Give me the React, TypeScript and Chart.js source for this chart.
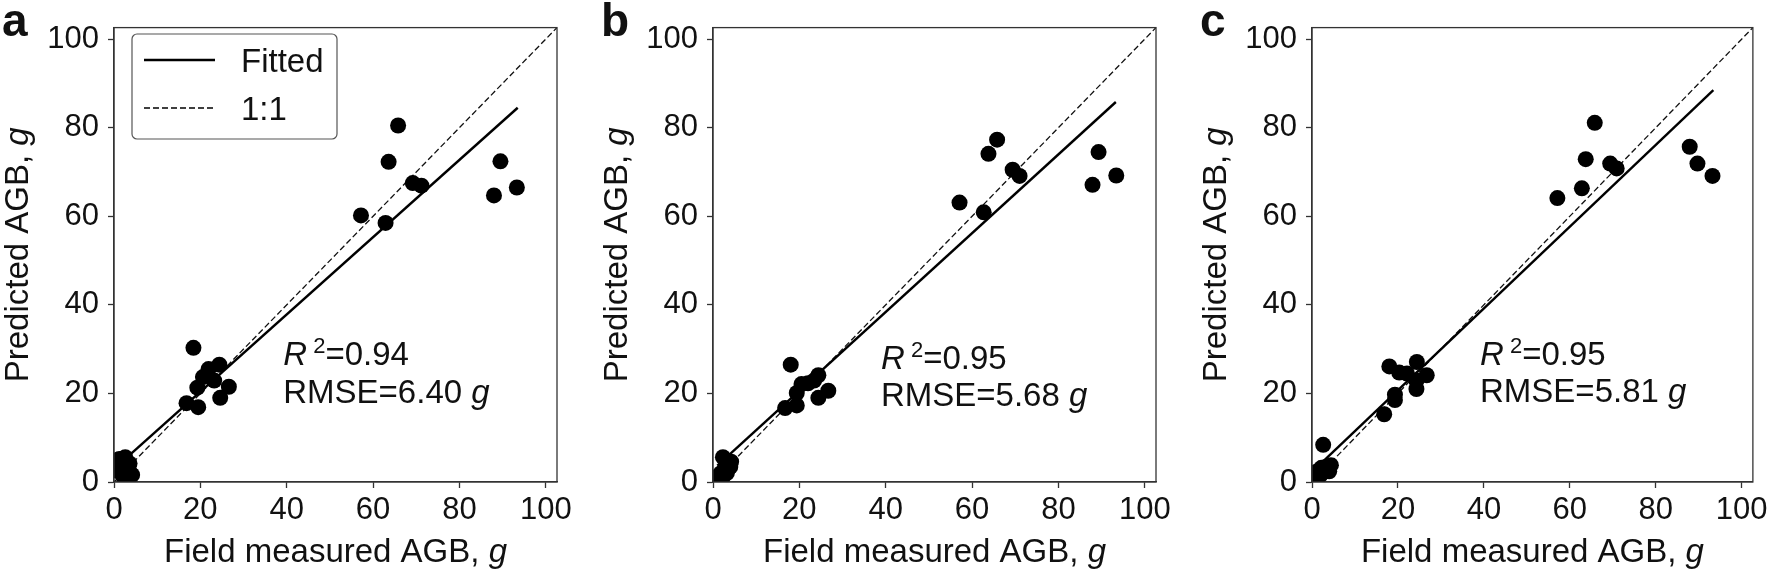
import React, { useEffect, useRef } from 'react';
import { Chart, registerables } from 'chart.js';
Chart.register(...registerables);

const FONT = "'Liberation Sans', Arial, Helvetica, sans-serif";
const PANEL_LETTERS = ['a', 'b', 'c'];
const X_TICKS = [0, 20, 40, 60, 80, 100];
const Y_TICKS = [0, 20, 40, 60, 80, 100];
const AXIS_MAX = 102.6;
const X_TITLE = 'Field measured AGB, ';
const Y_TITLE = 'Predicted AGB, ';
const UNIT = 'g';
const R2_LABELS = ['0.94', '0.95', '0.95'];
const RMSE_LABELS = ['6.40', '5.68', '5.81'];
const LEGEND_LABELS = ['Fitted', '1:1'];

// Panel a
const A_X = [65.8, 63.6, 69.2, 71.2, 57.2, 62.9, 89.5, 88.0, 93.3, 18.4, 24.4, 21.9, 20.6, 23.2, 26.6, 19.3, 24.6, 16.8, 19.5, 1.2, 2.6, 3.2, 3.8, 4.2, 2.2, 1.0, 3.6, 2.8, 1.6];
const A_Y = [80.5, 72.3, 67.5, 66.9, 60.2, 58.5, 72.4, 64.7, 66.5, 30.3, 26.5, 25.5, 23.7, 22.9, 21.5, 21.3, 19.0, 17.8, 16.9, 5.2, 5.6, 3.4, 2.0, 1.6, 1.2, 2.4, 4.2, 2.6, 3.8];
// Panel b
const B_X = [65.8, 63.8, 69.4, 71.0, 57.1, 62.7, 89.3, 87.9, 93.4, 18.0, 24.4, 23.4, 22.0, 20.5, 19.4, 26.7, 24.4, 19.4, 16.7, 2.3, 3.5, 4.0, 2.8, 1.8, 1.0, 3.2, 2.2, 4.2];
const B_Y = [77.3, 74.1, 70.5, 69.1, 63.1, 60.9, 74.5, 67.1, 69.2, 26.5, 24.1, 22.9, 22.3, 22.1, 20.1, 20.6, 19.0, 17.3, 16.7, 5.6, 4.2, 3.4, 3.0, 2.0, 1.2, 2.0, 1.0, 4.6];
// Panel c
const C_X = [65.8, 63.7, 69.4, 70.9, 57.1, 62.8, 87.9, 89.7, 93.2, 18.0, 24.4, 20.3, 22.1, 26.7, 24.3, 24.3, 19.3, 19.3, 16.8, 2.6, 1.2, 2.2, 3.2, 4.4, 4.0, 1.0, 2.0, 3.0];
const C_Y = [81.1, 72.9, 71.9, 70.8, 64.1, 66.3, 75.7, 71.9, 69.1, 26.1, 27.1, 24.7, 24.5, 24.1, 22.9, 21.0, 19.7, 18.5, 15.3, 8.4, 2.4, 3.2, 3.4, 3.8, 2.4, 1.0, 1.6, 2.4];

// Fitted line endpoints (x, y)
const A_FIT_X = [1.0, 93.5];
const A_FIT_Y = [3.8, 84.5];
const B_FIT_X = [1.0, 93.3];
const B_FIT_Y = [3.7, 85.8];
const C_FIT_X = [1.0, 93.4];
const C_FIT_Y = [3.2, 88.5];
const ONE_X = [0, 110];
const ONE_Y = [0, 110];

// text anchors in data units
const STAT_X = [39.2, 38.9, 39.1];
const STAT_Y1 = [28.9, 27.9, 28.9];
const STAT_Y2 = [20.3, 19.7, 20.5];

const PANELS = [
  { xs: A_X, ys: A_Y, fx: A_FIT_X, fy: A_FIT_Y },
  { xs: B_X, ys: B_Y, fx: B_FIT_X, fy: B_FIT_Y },
  { xs: C_X, ys: C_Y, fx: C_FIT_X, fy: C_FIT_Y },
];

const zip = (xs: number[], ys: number[]) => xs.map((x, i) => ({ x, y: ys[i] }));

type Run = { t: string; f: string; dy?: number };
function drawRuns(ctx: CanvasRenderingContext2D, x: number, y: number, runs: Run[], align: 'left' | 'center') {
  let w = 0;
  runs.forEach((r) => { ctx.font = r.f; w += ctx.measureText(r.t).width; });
  let cx = align === 'center' ? x - w / 2 : x;
  ctx.textAlign = 'left';
  ctx.textBaseline = 'alphabetic';
  runs.forEach((r) => {
    ctx.font = r.f;
    ctx.fillText(r.t, cx, y + (r.dy || 0));
    cx += ctx.measureText(r.t).width;
  });
}

function makePlugin(idx: number) {
  return {
    id: 'overlay' + idx,
    afterDraw(chart: any) {
      const { ctx, chartArea: ca, scales } = chart;
      const xs = scales.x, ys = scales.y;
      ctx.save();
      // frame
      ctx.strokeStyle = '#333';
      ctx.lineWidth = 1.3;
      ctx.strokeRect(ca.left, ca.top, ca.right - ca.left, ca.bottom - ca.top);
      ctx.fillStyle = '#111';
      // panel letter
      ctx.font = `bold 46px ${FONT}`;
      ctx.textAlign = 'left';
      ctx.textBaseline = 'alphabetic';
      ctx.fillText(PANEL_LETTERS[idx], ca.left - 112, 36);
      // x title
      const normal = `33px ${FONT}`;
      const ital = `italic 33px ${FONT}`;
      drawRuns(ctx, (ca.left + ca.right) / 2, 562, [{ t: X_TITLE, f: normal }, { t: UNIT, f: ital }], 'center');
      // y title
      ctx.save();
      ctx.translate(ca.left - 86, (ca.top + ca.bottom) / 2);
      ctx.rotate(-Math.PI / 2);
      drawRuns(ctx, 0, 0, [{ t: Y_TITLE, f: normal }, { t: UNIT, f: ital }], 'center');
      ctx.restore();
      // stats
      const sx = xs.getPixelForValue(STAT_X[idx]);
      const y1 = ys.getPixelForValue(STAT_Y1[idx]) + 11;
      const y2 = ys.getPixelForValue(STAT_Y2[idx]) + 11;
      drawRuns(ctx, sx, y1, [
        { t: 'R', f: ital },
        { t: ' ', f: `22px ${FONT}` },
        { t: '2', f: `22px ${FONT}`, dy: -12 },
        { t: '=' + R2_LABELS[idx], f: normal },
      ], 'left');
      drawRuns(ctx, sx, y2, [
        { t: 'RMSE=' + RMSE_LABELS[idx] + ' ', f: normal },
        { t: UNIT, f: ital },
      ], 'left');
      // legend (panel a only)
      if (idx === 0) {
        const bx = 132, by = 34, bw = 205, bh = 105;
        ctx.beginPath();
        ctx.roundRect(bx, by, bw, bh, 5);
        ctx.fillStyle = '#fff';
        ctx.fill();
        ctx.strokeStyle = '#555';
        ctx.lineWidth = 1.2;
        ctx.stroke();
        ctx.strokeStyle = '#000';
        ctx.lineWidth = 2.4;
        ctx.beginPath();
        ctx.moveTo(144, 60);
        ctx.lineTo(215, 60);
        ctx.stroke();
        ctx.lineWidth = 1.3;
        ctx.setLineDash([6, 3]);
        ctx.beginPath();
        ctx.moveTo(144, 108);
        ctx.lineTo(215, 108);
        ctx.stroke();
        ctx.setLineDash([]);
        ctx.fillStyle = '#111';
        ctx.font = normal;
        ctx.textAlign = 'left';
        ctx.textBaseline = 'alphabetic';
        ctx.fillText(LEGEND_LABELS[0], 241, 72);
        ctx.fillText(LEGEND_LABELS[1], 241, 120);
      }
      ctx.restore();
    },
  };
}

function Panel({ idx, left, width }: { idx: number; left: number; width: number }) {
  const ref = useRef<HTMLCanvasElement | null>(null);
  useEffect(() => {
    if (!ref.current) return;
    const p = PANELS[idx];
    const tickFont = { family: FONT, size: 31 };
    const chart = new Chart(ref.current, {
      type: 'scatter',
      data: {
        datasets: [
          {
            type: 'scatter',
            data: zip(p.xs, p.ys),
            pointRadius: 8,
            pointHoverRadius: 8,
            pointBackgroundColor: '#000',
            pointBorderWidth: 0,
            borderWidth: 0,
            order: 0,
          } as any,
          {
            type: 'line',
            data: zip(p.fx, p.fy),
            borderColor: '#000',
            borderWidth: 2.4,
            pointRadius: 0,
            fill: false,
            order: 1,
          } as any,
          {
            type: 'line',
            data: zip(ONE_X, ONE_Y),
            borderColor: '#111',
            borderWidth: 1.3,
            borderDash: [6, 3],
            pointRadius: 0,
            fill: false,
            order: 2,
          } as any,
        ],
      },
      options: {
        animation: false,
        responsive: false,
        maintainAspectRatio: false,
        devicePixelRatio: 1,
        layout: { padding: { left: 0, top: 16, right: width - 557, bottom: 0 } },
        plugins: { legend: { display: false }, tooltip: { enabled: false } },
        events: [],
        scales: {
          x: {
            type: 'linear',
            min: 0,
            max: AXIS_MAX,
            afterBuildTicks: (s: any) => { s.ticks = X_TICKS.map((v) => ({ value: v })); },
            afterFit: (s: any) => { s.height = 90; },
            ticks: { font: tickFont, color: '#111', padding: 4, maxRotation: 0, autoSkip: false },
            grid: { drawOnChartArea: false, drawTicks: true, tickLength: 6, tickWidth: 1.3, tickColor: '#333' },
            border: { display: true, color: '#333', width: 1.3 },
          },
          y: {
            type: 'linear',
            min: 0,
            max: AXIS_MAX,
            afterBuildTicks: (s: any) => { s.ticks = Y_TICKS.map((v) => ({ value: v })); },
            afterFit: (s: any) => { s.width = 114; },
            ticks: { font: tickFont, color: '#111', padding: 9, autoSkip: false },
            grid: { drawOnChartArea: false, drawTicks: true, tickLength: 6, tickWidth: 1.3, tickColor: '#333' },
            border: { display: true, color: '#333', width: 1.3 },
          },
        },
      } as any,
      plugins: [makePlugin(idx)],
    });
    return () => chart.destroy();
  }, [idx, width]);
  return (
    <canvas
      ref={ref}
      width={width}
      height={572}
      style={{ position: 'absolute', left, top: 0, width, height: 572 }}
    />
  );
}

export default function App() {
  return (
    <div style={{ position: 'absolute', left: 0, top: 0, width: 1772, height: 572, background: '#fff', overflow: 'hidden' }}>
      <Panel idx={0} left={0} width={599} />
      <Panel idx={1} left={599} width={599} />
      <Panel idx={2} left={1198} width={574} />
    </div>
  );
}
